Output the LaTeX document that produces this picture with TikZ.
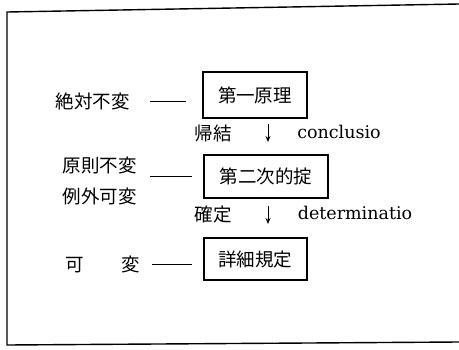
\documentclass[tikz,border=0pt]{standalone}
\usepackage{fontspec}
\setmainfont{DejaVu Serif}
\newfontfamily\cjk{Noto Sans CJK JP}
\usetikzlibrary{arrows.meta}
\begin{document}
\begin{tikzpicture}[x=1pt,y=-1pt,
  lbl/.style={font=\cjk\fontsize{18.5}{24}\selectfont, inner sep=0pt, anchor=center},
  lat/.style={font=\fontsize{17.5}{22}\selectfont, inner sep=0pt, anchor=center},
  boxn/.style={draw, line width=1.1pt, font=\cjk\fontsize{18.5}{24}\selectfont, inner sep=0pt, anchor=center},
  dashl/.style={line width=1pt},
  darr/.style={line width=0.9pt, -{Stealth[length=6pt,width=5pt]}}]
\useasboundingbox (0,0) rectangle (459,349);
% frame
\draw[line width=1.4pt] (459,4) -- (7,12) -- (7,345) -- (459,342);
% row 1
\node[lbl] (t1) at (93,101) {絶対不変};
\node[boxn, minimum width=104pt, minimum height=46pt] (b1) at (255,95) {第一原理};
\draw[dashl, shorten <=20pt, shorten >=16pt] (t1.east) -- (t1.east -| b1.west);
% step 1
\node[lbl] (l1) at (213,133) {帰結};
\node[lat] (c1) at (339,132) {conclusio};
\coordinate (a1s) at (268,124);
\coordinate (a1e) at (268,142);
\draw[darr] (a1s) -- (a1e);
% row 2
\node[lbl, align=center] (t2) at (100,181) {原則不変\\[7pt]例外可変};
\node[boxn, minimum width=124pt, minimum height=43pt] (b2) at (266,176.5) {第二次的掟};
\draw[dashl] ([xshift=13pt]t2.east |- b2.west) -- ([xshift=-11pt]b2.west);
% step 2
\node[lbl] (l2) at (213,215) {確定};
\node[lat] (c2) at (355,213) {determinatio};
\coordinate (a2s) at (268,206);
\coordinate (a2e) at (268,224);
\draw[darr] (a2s) -- (a2e);
% row 3
\node[lbl] (t3) at (103,264) {可\hspace{2em}変};
\node[boxn, minimum width=103pt, minimum height=42pt] (b3) at (255.5,259) {詳細規定};
\draw[dashl, shorten <=12pt, shorten >=11pt] (t3.east) -- (t3.east -| b3.west);
\end{tikzpicture}
\end{document}
